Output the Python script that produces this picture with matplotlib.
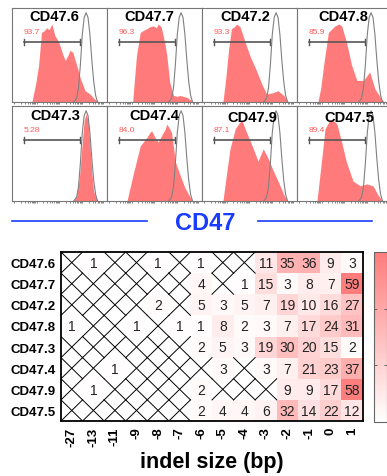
import numpy as np
import matplotlib
matplotlib.use("Agg")
import matplotlib.pyplot as plt
from matplotlib.colors import LinearSegmentedColormap
from matplotlib.lines import Line2D

plt.rcParams['font.family'] = ['Liberation Sans', 'DejaVu Sans']

# ---------------- data ----------------
hist_names = ['CD47.6', 'CD47.7', 'CD47.2', 'CD47.8',
              'CD47.3', 'CD47.4', 'CD47.9', 'CD47.5']
hist_pct = ['93.7', '96.3', '93.3', '85.9', '5.28', '84.0', '87.1', '89.4']

# control (gray outline) histogram, relative intensity vs normalized count
ctrl_x = [0.65, 0.68, 0.70, 0.72, 0.74, 0.76, 0.78, 0.80, 0.82, 0.84, 0.86, 0.88, 0.90]
ctrl_y = [0.00, 0.04, 0.15, 0.40, 0.72, 0.90, 0.95, 0.90, 0.72, 0.45, 0.22, 0.07, 0.00]

# sample (red) histograms
s_x = {
    'CD47.6': [0.21, 0.25, 0.28, 0.31, 0.34, 0.365, 0.39, 0.42, 0.45, 0.48, 0.505, 0.53, 0.56, 0.59, 0.61, 0.64, 0.66, 0.69, 0.72, 0.77, 0.82, 0.87, 0.92],
    'CD47.7': [0.27, 0.29, 0.31, 0.35, 0.38, 0.42, 0.45, 0.49, 0.52, 0.54, 0.57, 0.59, 0.61, 0.63, 0.66, 0.70, 0.74, 0.77, 0.80, 0.84, 0.87, 0.91],
    'CD47.2': [0.22, 0.25, 0.28, 0.31, 0.34, 0.365, 0.40, 0.45, 0.505, 0.575, 0.63, 0.68, 0.75, 0.80, 0.86, 0.91],
    'CD47.8': [0.22, 0.25, 0.28, 0.33, 0.40, 0.44, 0.47, 0.52, 0.575, 0.63, 0.70, 0.765, 0.82, 0.89, 0.92],
    'CD47.3': [0.645, 0.68, 0.71, 0.74, 0.76, 0.78, 0.80, 0.82, 0.84, 0.86, 0.89, 0.91],
    'CD47.4': [0.21, 0.28, 0.35, 0.42, 0.45, 0.47, 0.51, 0.54, 0.58, 0.61, 0.63, 0.66, 0.68, 0.72, 0.77, 0.82, 0.87, 0.90],
    'CD47.9': [0.22, 0.26, 0.295, 0.35, 0.39, 0.42, 0.47, 0.54, 0.59, 0.645, 0.70, 0.75, 0.80, 0.86, 0.90],
    'CD47.5': [0.21, 0.26, 0.295, 0.35, 0.39, 0.42, 0.47, 0.52, 0.59, 0.665, 0.735, 0.80, 0.855, 0.90],
}
s_y = {
    'CD47.6': [0.00, 0.20, 0.39, 0.74, 0.76, 0.79, 0.77, 0.83, 0.71, 0.66, 0.60, 0.52, 0.44, 0.50, 0.55, 0.53, 0.46, 0.36, 0.25, 0.12, 0.085, 0.03, 0.00],
    'CD47.7': [0.00, 0.25, 0.49, 0.74, 0.76, 0.78, 0.80, 0.81, 0.79, 0.83, 0.80, 0.71, 0.62, 0.49, 0.21, 0.07, 0.06, 0.07, 0.06, 0.05, 0.03, 0.00],
    'CD47.2': [0.00, 0.25, 0.56, 0.78, 0.80, 0.83, 0.80, 0.65, 0.49, 0.33, 0.19, 0.085, 0.10, 0.12, 0.07, 0.00],
    'CD47.8': [0.00, 0.15, 0.39, 0.74, 0.81, 0.83, 0.81, 0.64, 0.39, 0.23, 0.23, 0.32, 0.14, 0.03, 0.00],
    'CD47.3': [0.00, 0.05, 0.25, 0.62, 0.85, 0.92, 0.85, 0.60, 0.30, 0.10, 0.02, 0.00],
    'CD47.4': [0.00, 0.30, 0.58, 0.67, 0.72, 0.74, 0.66, 0.62, 0.70, 0.75, 0.81, 0.76, 0.72, 0.41, 0.27, 0.14, 0.05, 0.00],
    'CD47.9': [0.00, 0.30, 0.55, 0.76, 0.82, 0.85, 0.72, 0.55, 0.42, 0.55, 0.44, 0.32, 0.21, 0.07, 0.00],
    'CD47.5': [0.00, 0.44, 0.76, 0.86, 0.84, 0.81, 0.62, 0.41, 0.21, 0.16, 0.18, 0.16, 0.06, 0.00],
}

# heatmap
rows = ['CD47.6', 'CD47.7', 'CD47.2', 'CD47.8', 'CD47.3', 'CD47.4', 'CD47.9', 'CD47.5']
cols = ['-27', '-13', '-11', '-9', '-8', '-7', '-6', '-5', '-4', '-3', '-2', '-1', '0', '1']
N = None
r_cd47_6 = [N, 1, N, N, 1, N, 1, N, N, 11, 35, 36, 9, 3]
r_cd47_7 = [N, N, N, N, N, N, 4, N, 1, 15, 3, 8, 7, 59]
r_cd47_2 = [N, N, N, N, 2, N, 5, 3, 5, 7, 19, 10, 16, 27]
r_cd47_8 = [1, N, N, 1, N, 1, 1, 8, 2, 3, 7, 17, 24, 31]
r_cd47_3 = [N, N, N, N, N, N, 2, 5, 3, 19, 30, 20, 15, 2]
r_cd47_4 = [N, N, 1, N, N, N, N, 3, N, 3, 7, 21, 23, 37]
r_cd47_9 = [N, 1, N, N, N, N, 2, N, N, N, 9, 9, 17, 58]
r_cd47_5 = [N, N, N, N, N, N, 2, 4, 4, 6, 32, 14, 22, 12]
heat_rows = [r_cd47_6, r_cd47_7, r_cd47_2, r_cd47_8, r_cd47_3, r_cd47_4, r_cd47_9, r_cd47_5]

# ---------------- figure ----------------
W, H = 387, 477
fig = plt.figure(figsize=(W / 100, H / 100), dpi=100)


def ax_px(x0, y0, w, h):
    return fig.add_axes([x0 / W, 1 - (y0 + h) / H, w / W, h / H])


panel_x0 = [12, 107, 202, 297]
panel_y0 = [9, 107]
panel_h = [94, 95]
title_x = [0.45, 0.45, 0.46, 0.49, 0.46, 0.50, 0.53, 0.55]
title_y = [0.91, 0.91, 0.91, 0.91, 0.90, 0.90, 0.88, 0.88]

# log-like minor tick positions
minor = []
for d in range(4):
    for k in range(1, 10):
        minor.append((d + np.log10(k)) / 4.2 + 0.02)

red = '#FF7B7B'
for i, name in enumerate(hist_names):
    r, c = divmod(i, 4)
    ax = ax_px(panel_x0[c], panel_y0[r], 95, panel_h[r])
    ax.fill_between(s_x[name], 0, s_y[name], color=red, lw=0, zorder=2)
    ax.plot(ctrl_x, ctrl_y, color='#808080', lw=0.8, zorder=3)
    ax.set_xlim(0, 1)
    ax.set_ylim(0, 1)
    # gate
    gy = 0.64
    ax.plot([0.13, 0.72], [gy, gy], color='#555555', lw=1.2, zorder=4)
    ax.plot([0.13, 0.13], [gy - 0.03, gy + 0.03], color='#555555', lw=1.0, zorder=4)
    ax.plot([0.72, 0.72], [gy - 0.03, gy + 0.03], color='#555555', lw=1.0, zorder=4)
    ax.text(0.12, 0.755, hist_pct[i], color='#FF5A5A', fontsize=6,
            ha='left', va='center', zorder=5)
    ax.text(title_x[i], title_y[i], name, fontsize=10.5, weight='bold',
            ha='center', va='center', zorder=6)
    ax.set_yticks([])
    ax.set_xticks(minor, minor=True)
    ax.set_xticks([])
    ax.tick_params(axis='x', which='minor', length=1.5, width=0.5,
                   color='#555555', labelbottom=False)
    for sp in ax.spines.values():
        sp.set_color('#777777')
        sp.set_linewidth(0.8)

# CD47 header
fig.text(205 / W, 1 - 223 / H, 'CD47', color='#1A3CFF', fontsize=17,
         weight='bold', ha='center', va='center')
fig.add_artist(Line2D([12 / W, 147 / W], [1 - 222 / H] * 2, color='#1A3CFF',
                      lw=1.2, transform=fig.transFigure))
fig.add_artist(Line2D([258 / W, 372 / W], [1 - 222 / H] * 2, color='#1A3CFF',
                      lw=1.2, transform=fig.transFigure))

# heatmap
cmap = LinearSegmentedColormap.from_list('wr', ['#FFFFFF', '#FF7B7B'])
data = np.array([[np.nan if v is None else v for v in row] for row in heat_rows], dtype=float)
masked = np.ma.masked_invalid(data)

hax = ax_px(61, 253, 302, 169)
mesh = hax.pcolormesh(np.arange(len(cols) + 1), np.arange(len(rows) + 1), masked,
                      cmap=cmap, vmin=0, vmax=60)
hax.set_xlim(0, len(cols))
hax.set_ylim(len(rows), 0)
for i, row in enumerate(heat_rows):
    for j, v in enumerate(row):
        if v is None:
            hax.plot([j, j + 1], [i, i + 1], color='black', lw=0.7)
            hax.plot([j + 1, j], [i, i + 1], color='black', lw=0.7)
        else:
            hax.text(j + 0.5, i + 0.52, str(v), ha='center', va='center',
                     fontsize=10, color='#222222')
hax.set_xticks(np.arange(len(cols)) + 0.5)
hax.set_xticklabels(cols, rotation=90, fontsize=9.5, weight='bold')
hax.set_yticks(np.arange(len(rows)) + 0.5)
hax.set_yticklabels(rows, fontsize=9.5, weight='bold')
hax.tick_params(length=0, pad=4)
for sp in hax.spines.values():
    sp.set_linewidth(1.3)
fig.text(212 / W, 1 - 463 / H, 'indel size (bp)', fontsize=15.5, weight='bold',
         ha='center', va='center')

# colorbar
cax = ax_px(373.5, 253, 13, 170)
cb = fig.colorbar(mesh, cax=cax)
cb.set_ticks([20, 40])
cax.tick_params(direction='in', left=True, right=True, length=2, width=0.6,
                labelright=False, labelleft=False, color='#555555')
cb.outline.set_edgecolor('#666666')
cb.outline.set_linewidth(0.8)

fig.savefig('out.png', dpi=100)
